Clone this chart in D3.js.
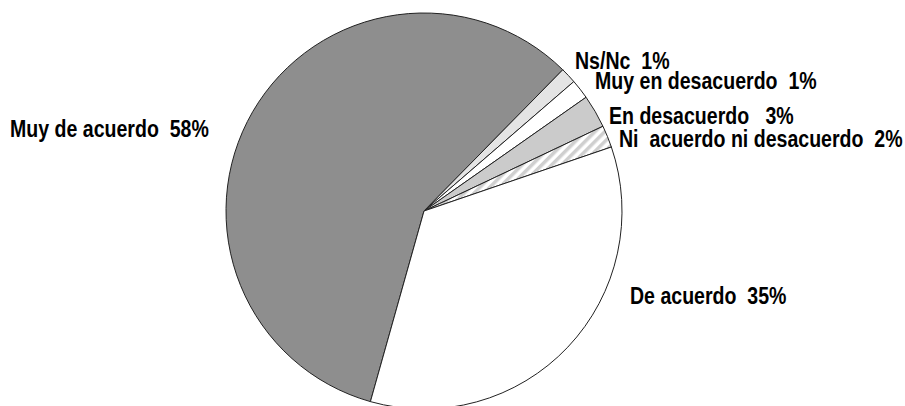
<!DOCTYPE html>
<html>
<head>
<meta charset="utf-8">
<script src="https://cdn.jsdelivr.net/npm/d3@7"></script>
<style>
  html, body { margin: 0; padding: 0; background: #fff; }
  svg text { font-family: "Liberation Sans", Arial, sans-serif; font-weight: bold; white-space: pre; }
</style>
</head>
<body>
<svg id="chart" width="905" height="406"></svg>
<script>
// ---- data ----
const categories = ["Muy de acuerdo", "Ns/Nc", "Muy en desacuerdo", "En desacuerdo", "Ni  acuerdo ni desacuerdo", "De acuerdo"];
const values = [58.0, 1.3, 1.6, 2.7, 1.8, 34.6];
const percentLabels = ["58%", "1%", "1%", "3%", "2%", "35%"];
const labelGaps = ["  ", "  ", "  ", "   ", "  ", "  "];

// ---- layout / style ----
const W = 905, H = 406;
const cx = 424, cy = 211, R = 198;
const startDeg = 195.7;
const fills = ["#8e8e8e", "#e4e4e4", "#ffffff", "#cbcbcb", "url(#hatch)", "#ffffff"];
const labelPos = [
  [10, 137], [575, 69], [595, 89], [609, 124], [619, 147], [630, 304]
];
const fontSize = 23, squeeze = 0.85;

const svg = d3.select("#chart");
const defs = svg.append("defs");
const pat = defs.append("pattern").attr("id", "hatch")
  .attr("patternUnits", "userSpaceOnUse").attr("width", 7).attr("height", 7)
  .attr("patternTransform", "rotate(45)");
pat.append("rect").attr("width", 7).attr("height", 7).attr("fill", "#ffffff");
pat.append("rect").attr("width", 3.5).attr("height", 7).attr("fill", "#cfcfcf");

const pie = d3.pie().sort(null).value(d => d)
  .startAngle(startDeg * Math.PI / 180)
  .endAngle(startDeg * Math.PI / 180 + 2 * Math.PI);
const arc = d3.arc().innerRadius(0).outerRadius(R);

const g = svg.append("g").attr("transform", `translate(${cx},${cy})`);
g.selectAll("path").data(pie(values)).join("path")
  .attr("d", arc)
  .attr("fill", (d, i) => fills[i])
  .attr("stroke", "#222")
  .attr("stroke-width", 1)
  .attr("stroke-linejoin", "round");

const texts = svg.selectAll("text.lbl").data(categories).join("text")
  .attr("class", "lbl")
  .attr("x", (d, i) => labelPos[i][0])
  .attr("y", (d, i) => labelPos[i][1])
  .attr("font-size", fontSize)
  .attr("fill", "#000")
  .text((d, i) => d + labelGaps[i] + percentLabels[i]);
texts.each(function() {
  const w = this.getComputedTextLength();
  d3.select(this).attr("textLength", w * squeeze).attr("lengthAdjust", "spacingAndGlyphs");
});
</script>
</body>
</html>
